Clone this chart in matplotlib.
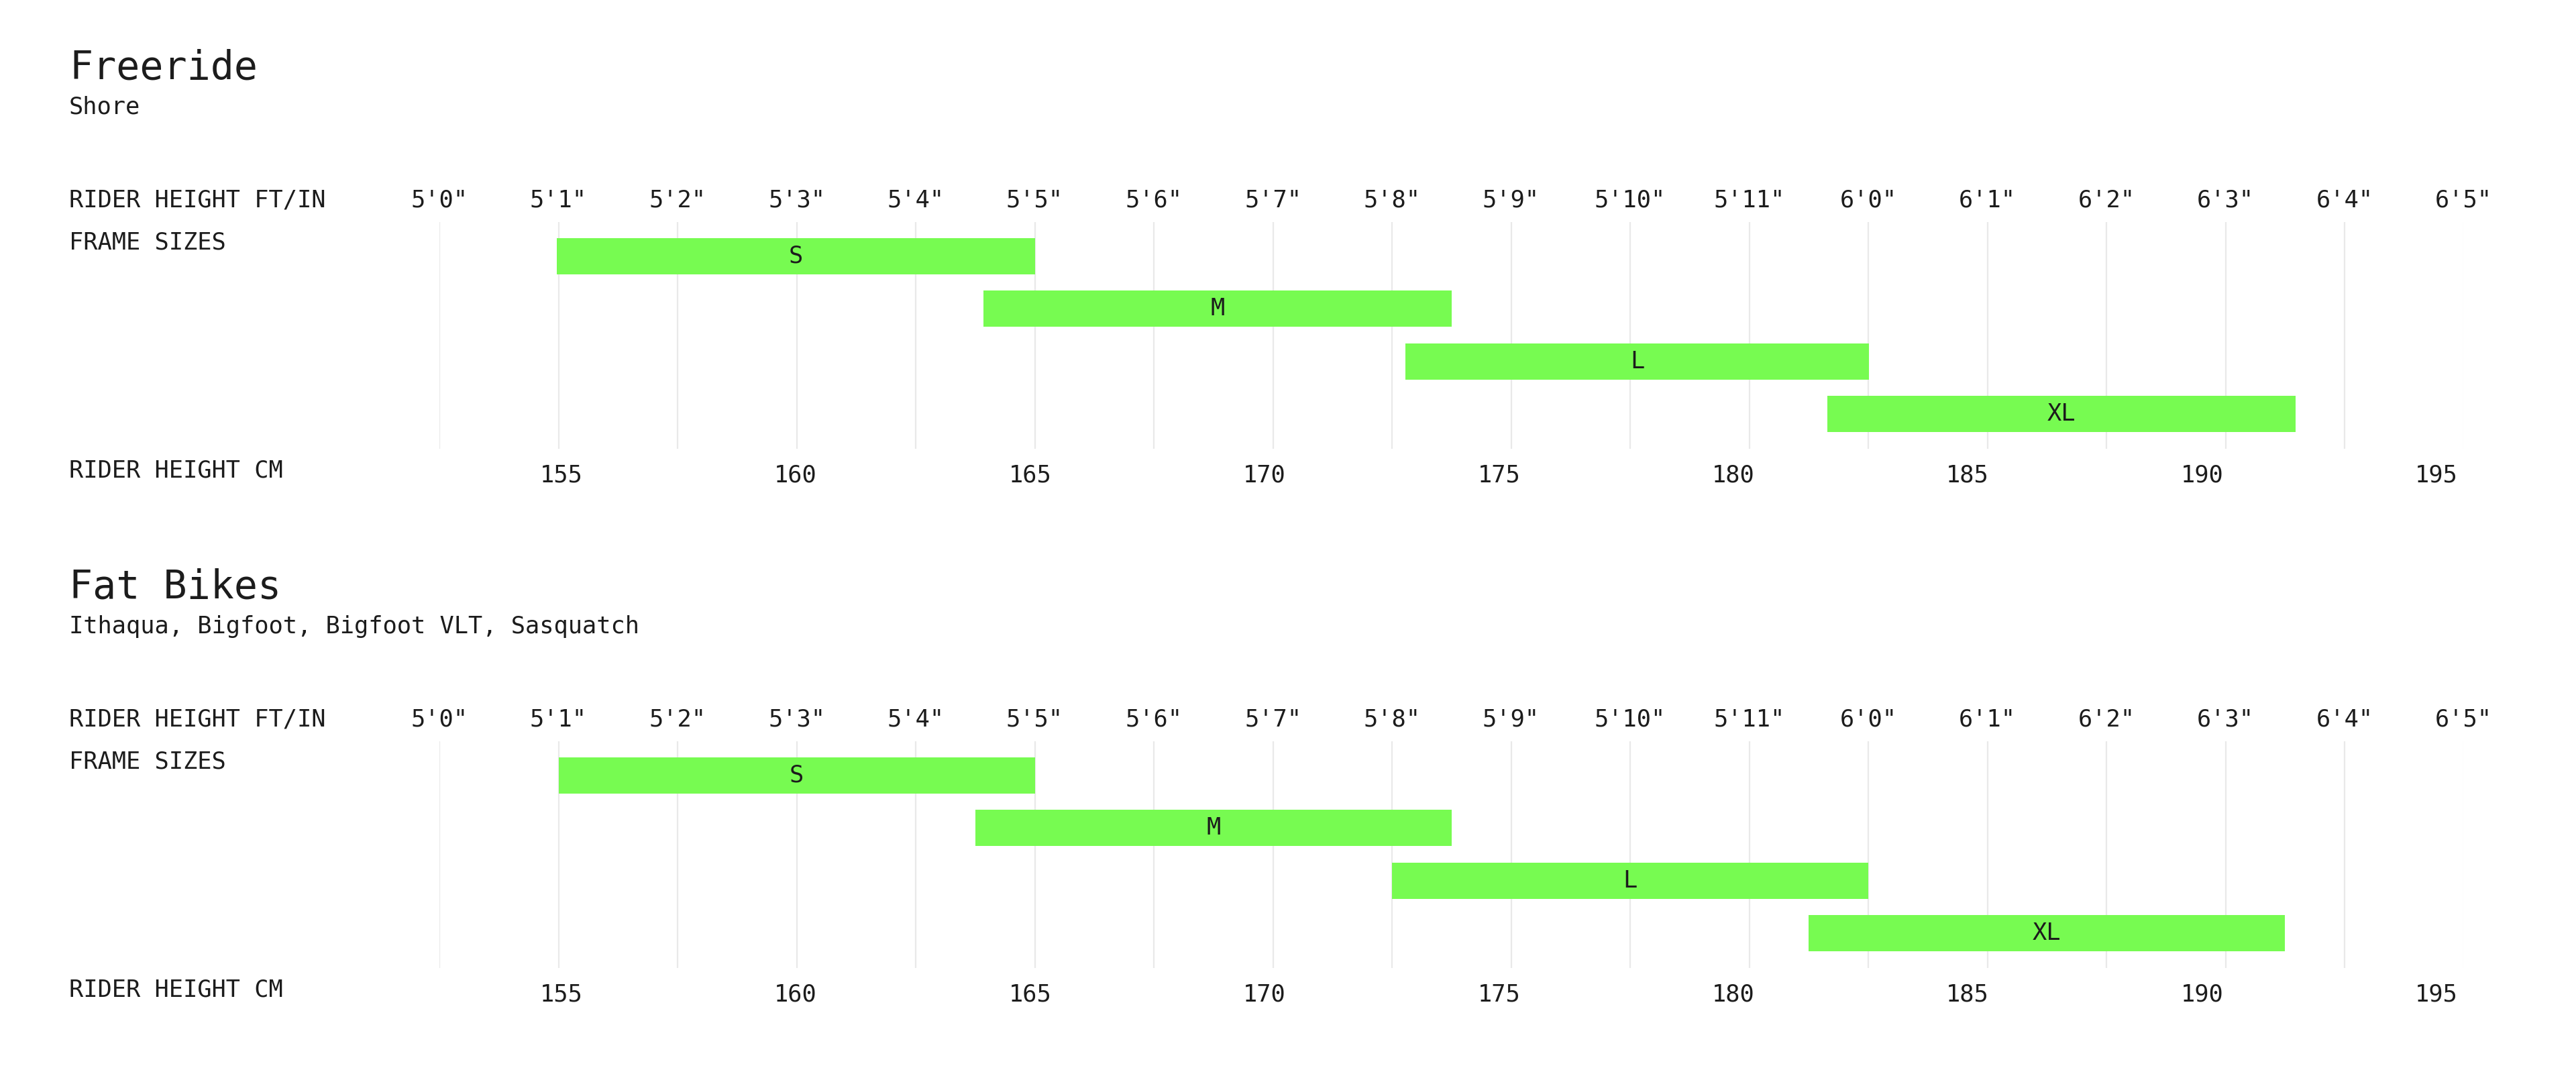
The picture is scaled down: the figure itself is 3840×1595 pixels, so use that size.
import matplotlib
matplotlib.use("Agg")
import matplotlib.pyplot as plt

plt.rcParams['font.family'] = ['DejaVu Sans Mono']

W, H = 3840, 1595
CM_PER_IN = 2.54

# data
inch_ticks = list(range(60, 78))
inch_labels = ["%d'%d\"" % (i // 12, i % 12) for i in inch_ticks]
cm_ticks = [155, 160, 165, 170, 175, 180, 185, 190, 195]
sizes = ["S", "M", "L", "XL"]

freeride_title = "Freeride"
freeride_models = "Shore"
freeride_min_cm = [154.9, 164, 173, 182]
freeride_max_cm = [165.1, 174, 182.9, 192]

fat_title = "Fat Bikes"
fat_models = "Ithaqua, Bigfoot, Bigfoot VLT, Sasquatch"
fat_min_in = [61, 64.5, 68, 71.5]
fat_max_in = [65, 68.5, 72, 75.5]

GREEN = "#77fb51"
TEXT = "#1c1c1c"
GRID = "#e9e9e9"
SMALL = 25.5


def fy(px):
    # pixel row (from top) -> figure fraction
    return 1 - px / H


def draw_panel(fig, off, title, models, lows, highs):
    x0 = 103 / W
    fig.text(x0, fy(118 + off), title, fontsize=42, color=TEXT, va='baseline')
    fig.text(x0, fy(170 + off), models, fontsize=SMALL, color=TEXT, va='baseline')
    fig.text(x0, fy(309 + off), "RIDER HEIGHT FT/IN", fontsize=SMALL, color=TEXT, va='baseline')
    fig.text(x0, fy(372 + off), "FRAME SIZES", fontsize=SMALL, color=TEXT, va='baseline')
    fig.text(x0, fy(711 + off), "RIDER HEIGHT CM", fontsize=SMALL, color=TEXT, va='baseline')

    left, right = 655, 655 + 17 * 177.5
    top, bottom = 331 + off, 669 + off
    ax = fig.add_axes([left / W, fy(bottom), (right - left) / W, (bottom - top) / H])
    ax.set_xlim(60, 77)
    ax.set_ylim(3.66, -0.65)

    rows = range(len(sizes))
    widths = [h - l for l, h in zip(lows, highs)]
    ax.barh(list(rows), widths, left=lows, height=0.69, color=GREEN, zorder=3)
    for r, l, h, s in zip(rows, lows, highs, sizes):
        ax.text((l + h) / 2, r, s, ha='center', va='center', fontsize=SMALL, color=TEXT, zorder=4)

    ax.set_xticks(inch_ticks)
    ax.set_xticklabels(inch_labels)
    ax.tick_params(axis='x', top=True, labeltop=True, bottom=False, labelbottom=False,
                   length=0, pad=11, labelsize=SMALL, labelcolor=TEXT)
    ax.set_yticks([])
    ax.grid(axis='x', color=GRID, linewidth=1.6, zorder=0)
    ax.set_axisbelow(True)
    for sp in ax.spines.values():
        sp.set_visible(False)

    sec = ax.secondary_xaxis('bottom', functions=(lambda x: x * CM_PER_IN, lambda c: c / CM_PER_IN))
    sec.set_xticks(cm_ticks)
    sec.tick_params(length=0, pad=16, labelsize=SMALL, labelcolor=TEXT)
    sec.spines['bottom'].set_visible(False)
    return ax


fig = plt.figure(figsize=(W / 100, H / 100), dpi=100)
fig.patch.set_facecolor('white')

freeride_min_in = [c / CM_PER_IN for c in freeride_min_cm]
freeride_max_in = [c / CM_PER_IN for c in freeride_max_cm]

draw_panel(fig, 0, freeride_title, freeride_models, freeride_min_in, freeride_max_in)
draw_panel(fig, 774, fat_title, fat_models, fat_min_in, fat_max_in)

fig.savefig("out.png", dpi=100, facecolor='white')
